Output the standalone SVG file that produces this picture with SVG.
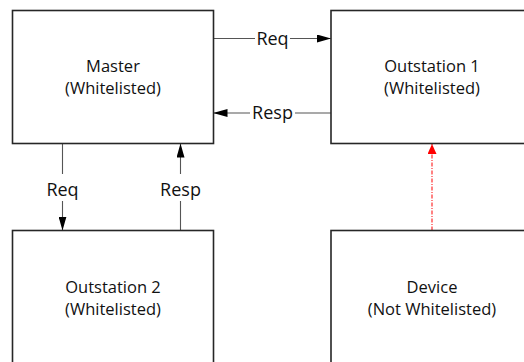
<svg xmlns="http://www.w3.org/2000/svg" width="524" height="362" viewBox="0 0 524 362">
<style>
.box{fill:#fff;stroke:#262626;stroke-width:1.6}
.nt{font-family:"Open Sans","Liberation Sans",sans-serif;font-size:16.5px;fill:#111;text-anchor:middle}
.lt{font-family:"Open Sans","Liberation Sans",sans-serif;font-size:18px;fill:#111;text-anchor:middle}
.cn{fill:none;stroke:#555;stroke-width:1.1}
.red{fill:none;stroke:#ff1a1a;stroke-width:1.1;stroke-dasharray:4 1.5 1 1.5}
</style>
<defs>
<marker id="ah" markerUnits="userSpaceOnUse" markerWidth="14" markerHeight="8" refX="14" refY="4" orient="auto" viewBox="0 0 14 8"><path d="M0,0 L14,4 L0,8 z" fill="#000"/></marker>
<marker id="ahr" markerUnits="userSpaceOnUse" markerWidth="10" markerHeight="9" refX="10" refY="4.5" orient="auto" viewBox="0 0 10 9"><path d="M0,0 L10,4.5 L0,9 z" fill="#ff0000"/></marker>
</defs>
<rect width="524" height="362" fill="#fff"/>
<g id="connectors">
<path class="cn" d="M213.5,38.5 H255 M290,38.5 H331" marker-end="url(#ah)"/>
<text class="lt" x="272.5" y="44.5">Req</text>
<path class="cn" d="M331,113 H295 M250,113 H213.5" marker-end="url(#ah)"/>
<text class="lt" x="272.5" y="119.3">Resp</text>
<path class="cn" d="M62.5,143.5 V174 M62.5,201 V230.5" marker-end="url(#ah)"/>
<text class="lt" x="62.5" y="195.7">Req</text>
<path class="cn" d="M180.5,230.5 V201 M180.5,174 V143.5" marker-end="url(#ah)"/>
<text class="lt" x="180.5" y="195.7">Resp</text>
<path class="red" d="M432,230.5 V144" marker-end="url(#ahr)"/>
</g>
<g id="master">
<rect class="box" x="12.5" y="10.5" width="201" height="133"/>
<text class="nt" x="113" y="72">Master</text>
<text class="nt" x="113" y="94">(Whitelisted)</text>
</g>
<g id="outstation1">
<rect class="box" x="331" y="10.5" width="201" height="133"/>
<text class="nt" x="432" y="72">Outstation 1</text>
<text class="nt" x="432" y="94">(Whitelisted)</text>
</g>
<g id="outstation2">
<rect class="box" x="12.5" y="230.5" width="201" height="133"/>
<text class="nt" x="113" y="293">Outstation 2</text>
<text class="nt" x="113" y="315">(Whitelisted)</text>
</g>
<g id="device">
<rect class="box" x="331" y="230.5" width="201" height="133"/>
<text class="nt" x="432" y="293">Device</text>
<text class="nt" x="432" y="315">(Not Whitelisted)</text>
</g>
</svg>
